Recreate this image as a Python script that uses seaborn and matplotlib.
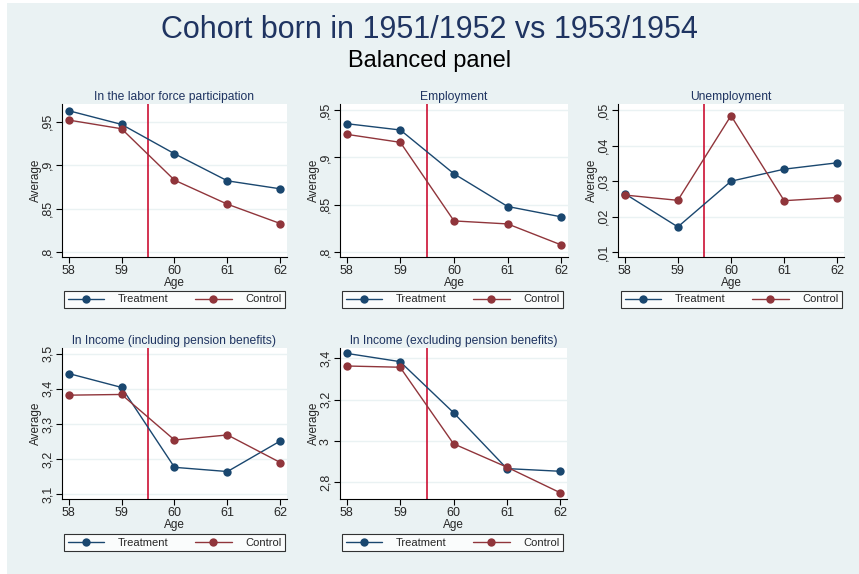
import numpy as np
import pandas as pd
import matplotlib
matplotlib.use("Agg")
import matplotlib.pyplot as plt
from matplotlib.patches import Rectangle
import seaborn as sns

# Data
ages = [58, 59, 60, 61, 62]

labor_treat = [0.9627, 0.9469, 0.9131, 0.8819, 0.8727]
labor_ctrl = [0.9519, 0.9419, 0.8827, 0.8550, 0.8327]

empl_treat = [0.9358, 0.9291, 0.8826, 0.8479, 0.8369]
empl_ctrl = [0.9245, 0.9160, 0.8326, 0.8294, 0.8071]

unemp_treat = [0.0265, 0.0171, 0.0300, 0.0334, 0.0352]
unemp_ctrl = [0.0261, 0.0246, 0.0485, 0.0245, 0.0254]

inc_incl_treat = [3.4435, 3.404, 3.177, 3.165, 3.252]
inc_incl_ctrl = [3.382, 3.384, 3.2546, 3.269, 3.1905]

inc_excl_treat = [3.424, 3.384, 3.1376, 2.867, 2.854]
inc_excl_ctrl = [3.363, 3.357, 2.987, 2.874, 2.750]

titles = ["In the labor force participation", "Employment", "Unemployment",
          "ln Income (including pension benefits)", "ln Income (excluding pension benefits)"]

yticks_list = [[0.8, 0.85, 0.9, 0.95],
               [0.8, 0.85, 0.9, 0.95],
               [0.01, 0.02, 0.03, 0.04, 0.05],
               [3.1, 3.2, 3.3, 3.4, 3.5],
               [2.8, 3.0, 3.2, 3.4]]
ytick_labels = [[",8", ",85", ",9", ",95"],
                [",8", ",85", ",9", ",95"],
                [",01", ",02", ",03", ",04", ",05"],
                ["3,1", "3,2", "3,3", "3,4", "3,5"],
                ["2,8", "3", "3,2", "3,4"]]
ylims = [(0.7942, 0.9704), (0.7943, 0.9567), (0.0086, 0.0518),
         (3.087, 3.516), (2.72, 3.45)]

series = [(labor_treat, labor_ctrl), (empl_treat, empl_ctrl), (unemp_treat, unemp_ctrl),
          (inc_incl_treat, inc_incl_ctrl), (inc_excl_treat, inc_excl_ctrl)]

NAVY = "#1a476f"
MAROON = "#90353b"
CUTOFF = "#cc1034"
BG = "#eaf2f3"
TITLE_C = "#1f3461"

sns.set_theme(style="white")
plt.rcParams["font.family"] = ["Liberation Sans", "DejaVu Sans"]

W, H = 859, 574
fig = plt.figure(figsize=(W / 100, H / 100), dpi=100, facecolor="white")
fig.patches.append(Rectangle((7 / W, 0), (W - 7) / W, (H - 3) / H,
                             transform=fig.transFigure, facecolor=BG,
                             edgecolor="none", zorder=-10))

# axes boxes in pixels: left, right, top, bottom
boxes = [(62, 287, 104, 257), (340, 568, 104, 257), (618, 844, 104, 257),
         (62, 287, 348, 499), (340, 567, 348, 499)]
legend_boxes = [(65, 284, 290, 309), (343, 562, 290, 309), (622, 841, 290, 309),
                (65, 284, 533, 552), (343, 562, 533, 552)]

for i, (tr, ct) in enumerate(series):
    l, r, t, b = boxes[i]
    ax = fig.add_axes([l / W, 1 - b / H, (r - l) / W, (b - t) / H])
    ax.set_facecolor("white")
    df = pd.DataFrame({"Age": ages * 2,
                       "Average": list(tr) + list(ct),
                       "group": ["Treatment"] * 5 + ["Control"] * 5})
    for yv in yticks_list[i]:
        ax.axhline(yv, color=BG, lw=1.0, zorder=0)
    ax.axvline(59.5, color=CUTOFF, lw=1.2, zorder=1)
    sns.lineplot(data=df, x="Age", y="Average", hue="group",
                 palette={"Treatment": NAVY, "Control": MAROON},
                 marker="o", markersize=6, markeredgewidth=0, lw=1.0,
                 ax=ax, zorder=3)
    ax.set_xlim(57.875, 62.125)
    ax.set_ylim(*ylims[i])
    ax.set_xticks(ages)
    ax.set_xticklabels([str(a) for a in ages], fontsize=9)
    ax.set_yticks(yticks_list[i])
    ax.set_yticklabels(ytick_labels[i], fontsize=9, rotation=90, va="center")
    ax.tick_params(axis="both", direction="out", length=4, width=0.8,
                   color="black", pad=2, left=True, bottom=True)
    for side in ["top", "right"]:
        ax.spines[side].set_visible(False)
    for side in ["left", "bottom"]:
        ax.spines[side].set_color("black")
        ax.spines[side].set_linewidth(0.8)
    ax.set_xlabel("Age", fontsize=8.5, labelpad=0)
    ax.set_ylabel("Average", fontsize=8.5, labelpad=0)
    ax.set_title(titles[i], fontsize=8.7, color=TITLE_C, pad=3)

    ll, lr, lt, lb = legend_boxes[i]
    handles, labels = ax.get_legend_handles_labels()
    leg = ax.legend(handles, labels, ncol=2,
                    bbox_to_anchor=((ll + lr) / 2 / W, 1 - (lt + lb) / 2 / H),
                    bbox_transform=fig.transFigure, loc="center",
                    fontsize=8, handlelength=3.3, handletextpad=1.2,
                    borderaxespad=0, borderpad=0.3, fancybox=False,
                    frameon=True, columnspacing=2.4)
    leg.get_frame().set_edgecolor("black")
    leg.get_frame().set_linewidth(0.8)
    leg.get_frame().set_facecolor("white")

fig.text(0.5, 1 - 30 / H, "Cohort born in 1951/1952 vs 1953/1954",
         ha="center", va="center", fontsize=22, color=TITLE_C)
fig.text(0.5, 1 - 61 / H, "Balanced panel", ha="center", va="center",
         fontsize=17, color="black")

fig.savefig("out.png", dpi=100, facecolor="white")
plt.close(fig)
